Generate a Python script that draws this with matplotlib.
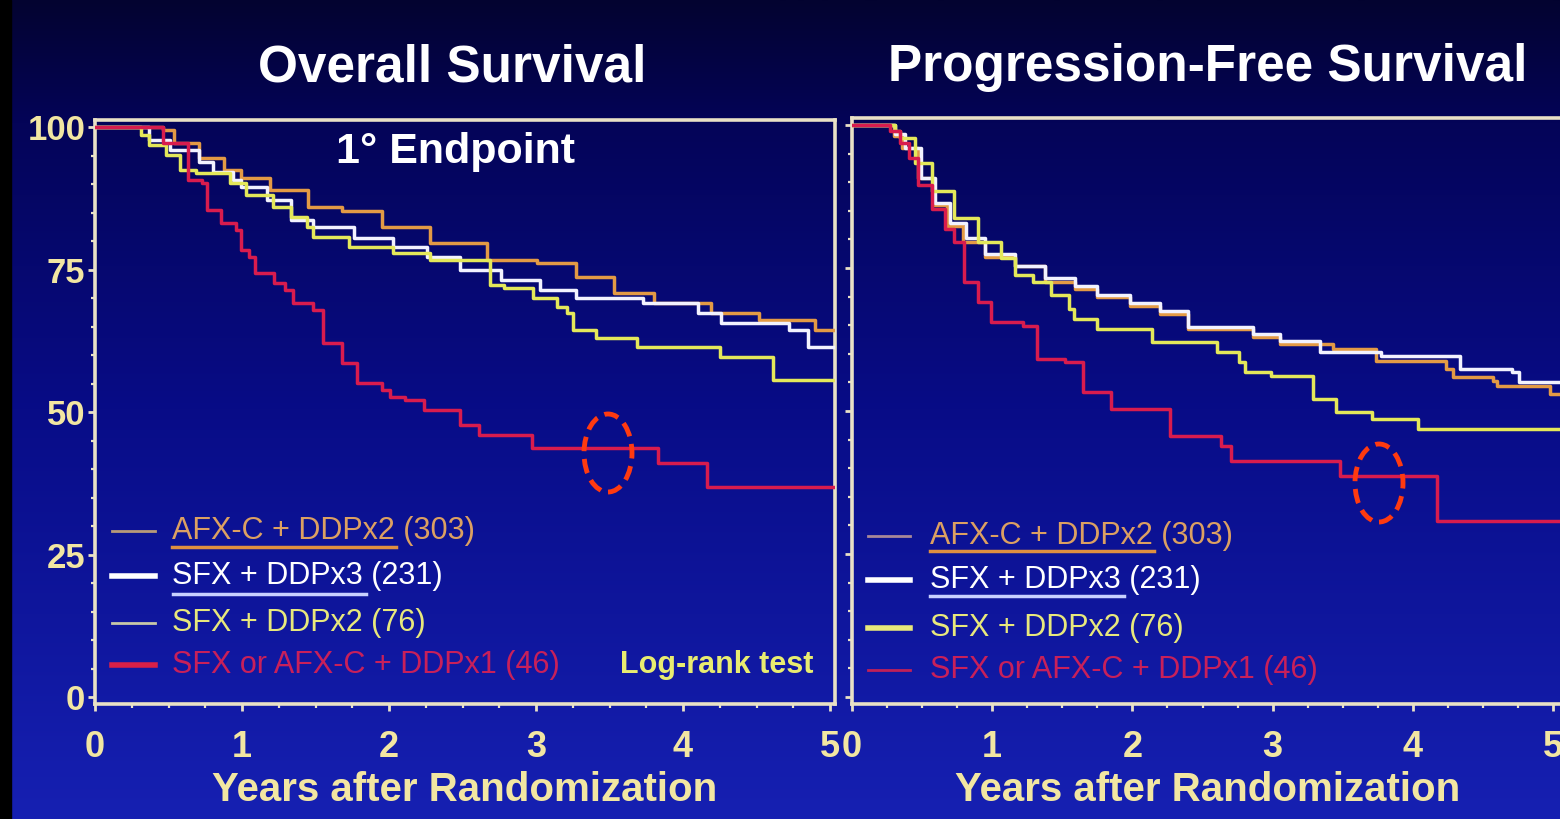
import numpy as np
import matplotlib
matplotlib.use("Agg")
import matplotlib.pyplot as plt
from matplotlib import font_manager as fm
from matplotlib.patches import Ellipse, Rectangle
from matplotlib.ticker import MultipleLocator

# ---------------- data ----------------
groups = ["AFX-C + DDPx2", "SFX + DDPx3", "SFX + DDPx2", "SFX or AFX-C + DDPx1"]
group_n = [303, 231, 76, 46]
panel_titles = ["Overall Survival", "Progression-Free Survival"]
x_ticks = [0, 1, 2, 3, 4, 5]
y_ticks = [0, 25, 50, 75, 100]
x_label = "Years after Randomization"

# Overall survival (years, % surviving)
os_afx_t = [0, 0.46, 0.54, 0.71, 0.88, 0.99, 1.19, 1.45, 1.68, 1.95, 2.28, 2.67, 3.01, 3.27, 3.53, 3.80, 4.19, 4.52, 4.90]
os_afx_s = [100, 99.5, 97.2, 94.6, 92.5, 91.1, 88.9, 86.0, 85.3, 82.5, 79.6, 76.7, 76.1, 73.7, 70.9, 69.1, 67.4, 66.1, 64.4]
os_sfx3_t = [0, 0.37, 0.51, 0.71, 0.80, 0.94, 0.99, 1.17, 1.33, 1.48, 1.76, 2.03, 2.26, 2.48, 2.76, 3.03, 3.27, 3.73, 4.10, 4.26, 4.72, 4.85]
os_sfx3_s = [100, 97.7, 96.0, 93.9, 92.1, 90.7, 89.5, 87.2, 83.7, 82.5, 80.5, 78.9, 77.2, 74.9, 73.2, 71.4, 70.0, 69.1, 67.4, 65.6, 64.4, 61.4]
os_sfx2_t = [0, 0.31, 0.37, 0.48, 0.58, 0.69, 0.92, 1.03, 1.21, 1.33, 1.44, 1.48, 1.73, 2.03, 2.28, 2.69, 2.78, 2.98, 3.14, 3.21, 3.25, 3.41, 3.69, 4.25, 4.61]
os_sfx2_s = [100, 98.6, 96.8, 95.1, 92.5, 91.9, 90.2, 88.1, 86.0, 84.2, 82.5, 80.7, 78.9, 77.9, 76.7, 72.3, 71.8, 70.0, 68.4, 67.4, 64.4, 63.0, 61.4, 59.6, 55.6]
os_ddp1_t = [0, 0.46, 0.63, 0.73, 0.76, 0.86, 0.96, 0.99, 1.05, 1.09, 1.22, 1.29, 1.35, 1.48, 1.55, 1.68, 1.78, 1.95, 2.01, 2.11, 2.24, 2.48, 2.61, 2.97, 3.83, 4.16]
os_ddp1_s = [100, 97.2, 90.7, 90.2, 85.4, 83.2, 81.9, 78.4, 77.2, 74.4, 72.6, 71.4, 69.1, 67.9, 62.1, 58.6, 55.1, 53.9, 52.6, 52.1, 50.4, 47.7, 46.0, 43.7, 41.1, 36.8]

# Progression-free survival
pfs_afx_t = [0, 0.30, 0.36, 0.47, 0.58, 0.68, 0.79, 0.95, 1.16, 1.38, 1.59, 1.75, 1.98, 2.20, 2.40, 2.86, 3.05, 3.43, 3.74, 4.24, 4.29, 4.57, 4.60, 4.98]
pfs_afx_s = [100, 98.0, 96.0, 90.7, 86.0, 82.3, 79.6, 77.0, 75.3, 72.6, 71.4, 70.0, 68.4, 67.0, 64.4, 63.0, 61.8, 60.9, 58.8, 57.4, 56.0, 55.3, 54.4, 53.0]
pfs_sfx3_t = [0, 0.31, 0.38, 0.49, 0.59, 0.70, 0.81, 0.95, 1.16, 1.38, 1.59, 1.75, 1.98, 2.20, 2.40, 2.86, 3.05, 3.34, 3.77, 4.34, 4.71, 4.76]
pfs_sfx3_s = [100, 98.5, 96.0, 90.7, 86.3, 82.8, 80.2, 77.5, 75.4, 73.2, 71.8, 70.2, 68.8, 67.4, 64.7, 63.5, 62.3, 60.4, 59.6, 57.4, 56.8, 55.0]
pfs_sfx2_t = [0, 0.31, 0.34, 0.45, 0.57, 0.73, 0.90, 1.06, 1.16, 1.29, 1.42, 1.55, 1.58, 1.75, 2.14, 2.60, 2.76, 2.80, 2.99, 3.29, 3.45, 3.71, 4.04]
pfs_sfx2_s = [100, 99.0, 97.7, 93.3, 88.4, 83.7, 79.6, 76.7, 73.7, 72.6, 70.2, 67.9, 66.1, 64.4, 62.1, 60.4, 58.6, 56.8, 56.1, 52.1, 49.8, 48.6, 46.8]
pfs_ddp1_t = [0, 0.27, 0.34, 0.41, 0.47, 0.57, 0.66, 0.73, 0.80, 0.90, 0.99, 1.22, 1.32, 1.52, 1.65, 1.85, 2.27, 2.63, 2.70, 3.48, 4.17]
pfs_ddp1_s = [100, 99.0, 96.8, 94.2, 89.5, 85.4, 81.9, 79.6, 72.6, 69.1, 65.6, 64.9, 59.1, 58.6, 53.3, 50.4, 45.6, 43.9, 41.2, 38.6, 30.7]

# ---------------- style ----------------
W, H = 1560, 819
names = {f.name for f in fm.fontManager.ttflist}
NARROW = "Liberation Sans Narrow" if "Liberation Sans Narrow" in names else "Liberation Sans"
SANS = "Liberation Sans"

C_ORANGE = "#e39a45"
C_WHITE = "#f2f2ff"
C_YELLOW = "#e4e85a"
C_RED = "#d81c4e"
line_colors = [C_ORANGE, C_WHITE, C_YELLOW, C_RED]
text_colors = ["#dca062", "#ffffff", "#e8e87c", "#c8205a"]
FRAME = "#e9e1c6"
TICKTXT = "#f2e6a2"


def fx(px):
    return px / W


def fy(py):
    return 1 - py / H


fig = plt.figure(figsize=(W / 100, H / 100), dpi=100)

# background gradient
bg = fig.add_axes([0, 0, 1, 1], zorder=-10)
stops = np.array([[0.0, 3, 3, 48], [0.15, 4, 4, 88], [0.5, 8, 12, 135], [1.0, 22, 32, 178]])
yy = np.linspace(0, 1, 400)
grad = np.stack([np.interp(yy, stops[:, 0], stops[:, k]) for k in (1, 2, 3)], axis=1) / 255.0
bg.imshow(grad[:, None, :], aspect="auto", extent=[0, 1, 0, 1], origin="upper")
bg.add_patch(Rectangle((0, 0), fx(11), 1, color="black"))
bg.set_xlim(0, 1)
bg.set_ylim(0, 1)
bg.axis("off")

curves = [
    [(os_afx_t, os_afx_s), (os_sfx3_t, os_sfx3_s), (os_sfx2_t, os_sfx2_s), (os_ddp1_t, os_ddp1_s)],
    [(pfs_afx_t, pfs_afx_s), (pfs_sfx3_t, pfs_sfx3_s), (pfs_sfx2_t, pfs_sfx2_s), (pfs_ddp1_t, pfs_ddp1_s)],
]

# axes geometry in pixels: (left, top, right, bottom)
geo = [(95, 120, 835, 704), (852, 118, 1572, 704)]
xmax = [(835 - 95) / 147.0, (1572 - 852) / 140.2]
y_lo = -(704 - 697) / 5.7
y_hi = 100 + (127 - 120) / 5.7

draw_order = [1, 2, 0, 3]
axes = []
for i in range(2):
    l, t, r, b = geo[i]
    ax = fig.add_axes([fx(l), fy(b), fx(r) - fx(l), fy(t) - fy(b)])
    ax.set_facecolor("none")
    ax.set_xlim(0, xmax[i])
    ax.set_ylim(y_lo, y_hi)
    for k in draw_order:
        t_, s_ = curves[i][k]
        tt = list(t_) + [xmax[i]]
        ss = list(s_) + [s_[-1]]
        ax.step(tt, ss, where="post", color=line_colors[k], lw=2.5, zorder=3 + k)
    for sp in ax.spines.values():
        sp.set_color(FRAME)
        sp.set_linewidth(2.6)
    ax.set_xticks(x_ticks)
    ax.xaxis.set_minor_locator(MultipleLocator(0.25))
    ax.set_yticks(y_ticks)
    ax.yaxis.set_minor_locator(MultipleLocator(5))
    ax.tick_params(which="major", direction="out", color=FRAME, length=5, width=2)
    ax.tick_params(which="minor", direction="out", color=FRAME, length=3, width=1.6)
    ax.tick_params(axis="x", pad=14, labelsize=26, labelcolor=TICKTXT)
    ax.tick_params(axis="y", pad=2, labelsize=25, labelcolor=TICKTXT)
    for lab in ax.get_xticklabels() + ax.get_yticklabels():
        lab.set_fontfamily(SANS)
        lab.set_fontweight("bold")
    if i == 1:
        ax.set_yticklabels([])
        ax.spines["right"].set_visible(False)
    axes.append(ax)

# titles
fig.text(fx(452), fy(68), panel_titles[0], ha="center", va="center", color="white",
         fontsize=37, fontweight="bold", family=SANS)
fig.text(fx(1208), fy(68), panel_titles[1], ha="center", va="center", color="white",
         fontsize=37, fontweight="bold", family=SANS)
fig.text(fx(455), fy(152), "1\u00b0 Endpoint", ha="center", va="center", color="white",
         fontsize=31, fontweight="bold", family=SANS)

# x labels
for cx in (465, 1208):
    fig.text(fx(cx), fy(790), x_label, ha="center", va="center", color=TICKTXT,
             fontsize=29, fontweight="bold", family=NARROW)

# legends
leg = [
    dict(hx=(112, 155), tx=172, rows=[531, 576, 623, 665],
         hcol=["#b89a78", "#ffffff", "#c8c8a8", "#d82048"], hlw=[2, 4, 2, 4],
         ul=[(172, 396, 547, "#e09040"), (173, 366, 594, "#c8d0ff")]),
    dict(hx=(868, 910), tx=930, rows=[536, 580, 628, 670],
         hcol=["#a88898", "#ffffff", "#e8e87a", "#c02058"], hlw=[2, 4, 4, 2],
         ul=[(930, 1154, 551, "#e09040"), (930, 1124, 596, "#c8d0ff")]),
]
for L in leg:
    for k, yrow in enumerate(L["rows"]):
        fig.add_artist(plt.Line2D([fx(L["hx"][0]), fx(L["hx"][1])], [fy(yrow), fy(yrow)],
                                  color=L["hcol"][k], lw=L["hlw"][k], transform=fig.transFigure))
        fig.text(fx(L["tx"]), fy(yrow), f"{groups[k]} ({group_n[k]})", ha="left", va="center",
                 color=text_colors[k], fontsize=22, family=NARROW)
    for (x0, x1, yu, c) in L["ul"]:
        fig.add_artist(plt.Line2D([fx(x0), fx(x1)], [fy(yu), fy(yu)], color=c, lw=2.5,
                                  transform=fig.transFigure))

fig.text(fx(717), fy(665), "Log-rank test", ha="center", va="center", color="#e8ec70",
         fontsize=22, fontweight="bold", family=SANS)

# dashed red ellipses
for (cx, cy) in ((608, 453), (1379, 483)):
    fig.add_artist(Ellipse((fx(cx), fy(cy)), 48 / W, 78 / H, transform=fig.transFigure,
                           fill=False, edgecolor="#ff3a10", lw=3.5, linestyle=(0, (3, 1.6)), zorder=20))

fig.savefig("out.png", dpi=100)
